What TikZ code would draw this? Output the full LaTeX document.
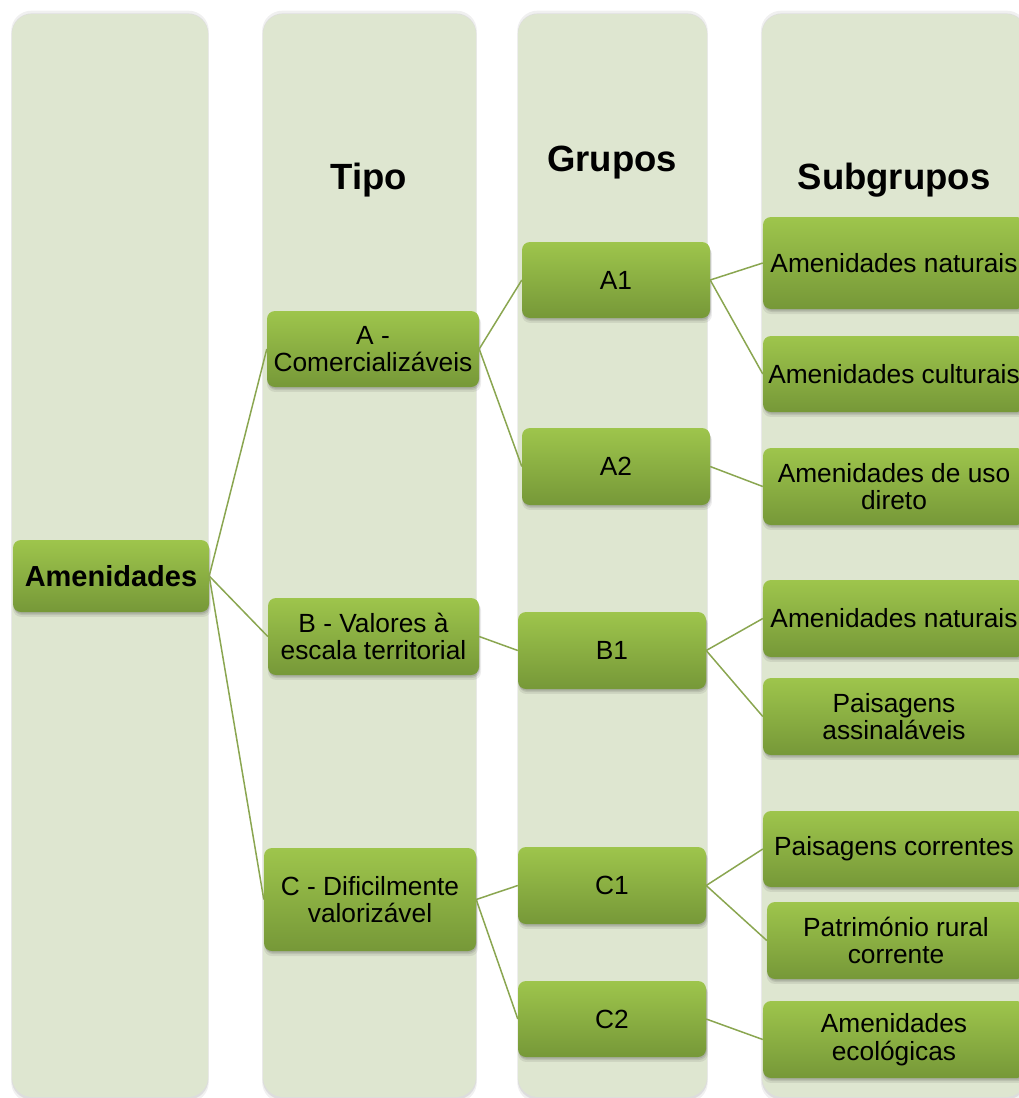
\documentclass[tikz,border=0pt]{standalone}
\usepackage{fontspec}
\setmainfont{Liberation Sans}
\usetikzlibrary{shadows}
\definecolor{colbg}{HTML}{DEE6D0}
\definecolor{gtop}{HTML}{9EC54C}
\definecolor{gbot}{HTML}{769838}
\definecolor{lineg}{HTML}{8AA650}
\begin{document}
\begin{tikzpicture}[x=1pt,y=-1pt,
  colbox/.style={fill=colbg, rounded corners=20pt,
    general shadow={fill=black, opacity=0.06, shadow xshift=0pt, shadow yshift=-1pt, shadow scale=1.008},
    general shadow={fill=black, opacity=0.08, shadow xshift=0pt, shadow yshift=-1pt, shadow scale=1.003}},
  gbox/.style={rectangle, rounded corners=8pt, top color=gtop, bottom color=gbot, draw=none,
    align=center, font=\fontsize{26.3}{27.5}\selectfont, inner sep=2pt,
    general shadow={fill=black, opacity=0.07, shadow xshift=1pt, shadow yshift=-4.5pt, shadow scale=1.01},
    general shadow={fill=black, opacity=0.09, shadow xshift=1pt, shadow yshift=-3pt, shadow scale=1.0},
    general shadow={fill=black, opacity=0.10, shadow xshift=0.5pt, shadow yshift=-1.5pt, shadow scale=1.0}},
  head/.style={font=\fontsize{36.5}{40}\selectfont\bfseries, anchor=base},
  link/.style={draw=lineg, line width=1.5pt}
]
\useasboundingbox (0,0) rectangle (1019,1098);
\clip (0,0) rectangle (1019,1098);
% columns
\fill[colbox] (12,14) rectangle (208,1097);
\fill[colbox] (263,14) rectangle (476,1097);
\fill[colbox] (518,14) rectangle (707,1097);
\fill[colbox] (762,14) rectangle (1026,1097);
% headings
\node[head] (htipo) at (369,189) {Tipo};
\node[head] (hgrupos) at (612,171) {Grupos};
\node[head] (hsub) at (894,189) {Subgrupos};
% level 0
\node[gbox, minimum width=196pt, minimum height=72pt] (am) at (111,576) {\bfseries\fontsize{29}{30}\selectfont Amenidades};
% level 1
\node[gbox, minimum width=212pt, minimum height=76pt] (ta) at (373,349) {A -\\Comercializáveis};
\node[gbox, minimum width=211pt, minimum height=77pt] (tb) at (373.5,636.5) {B - Valores à\\escala territorial};
\node[gbox, minimum width=212pt, minimum height=103pt] (tc) at (370,899.5) {C - Dificilmente\\valorizável};
% level 2
\node[gbox, minimum width=188pt, minimum height=76pt] (a1) at (616,280) {A1};
\node[gbox, minimum width=188pt, minimum height=77pt] (a2) at (616,466.5) {A2};
\node[gbox, minimum width=188pt, minimum height=77pt] (b1) at (612,650.5) {B1};
\node[gbox, minimum width=188pt, minimum height=77pt] (c1) at (612,885.5) {C1};
\node[gbox, minimum width=188pt, minimum height=76pt] (c2) at (612,1019) {C2};
% level 3
\node[gbox, minimum width=262pt, minimum height=92pt] (s1) at (894,263) {Amenidades naturais};
\node[gbox, minimum width=262pt, minimum height=76pt] (s2) at (894,374) {Amenidades culturais};
\node[gbox, minimum width=262pt, minimum height=77pt] (s3) at (894,486.5) {Amenidades de uso\\direto};
\node[gbox, minimum width=262pt, minimum height=77pt] (s4) at (894,618.5) {Amenidades naturais};
\node[gbox, minimum width=262pt, minimum height=77pt] (s5) at (894,716.5) {Paisagens\\assinaláveis};
\node[gbox, minimum width=262pt, minimum height=76pt] (s6) at (894,849) {Paisagens correntes};
\node[gbox, minimum width=258pt, minimum height=77pt] (s7) at (896,940.5) {Património rural\\corrente};
\node[gbox, minimum width=262pt, minimum height=77pt] (s8) at (894,1039.5) {Amenidades\\ecológicas};
% connectors
\draw[link] (am.east) -- (ta.west);
\draw[link] (am.east) -- (tb.west);
\draw[link] (am.east) -- (tc.west);
\draw[link] (ta.east) -- (a1.west);
\draw[link] (ta.east) -- (a2.west);
\draw[link] (tb.east) -- (b1.west);
\draw[link] (tc.east) -- (c1.west);
\draw[link] (tc.east) -- (c2.west);
\draw[link] (a1.east) -- (s1.west);
\draw[link] (a1.east) -- (s2.west);
\draw[link] (a2.east) -- (s3.west);
\draw[link] (b1.east) -- (s4.west);
\draw[link] (b1.east) -- (s5.west);
\draw[link] (c1.east) -- (s6.west);
\draw[link] (c1.east) -- (s7.west);
\draw[link] (c2.east) -- (s8.west);
\end{tikzpicture}
\end{document}
